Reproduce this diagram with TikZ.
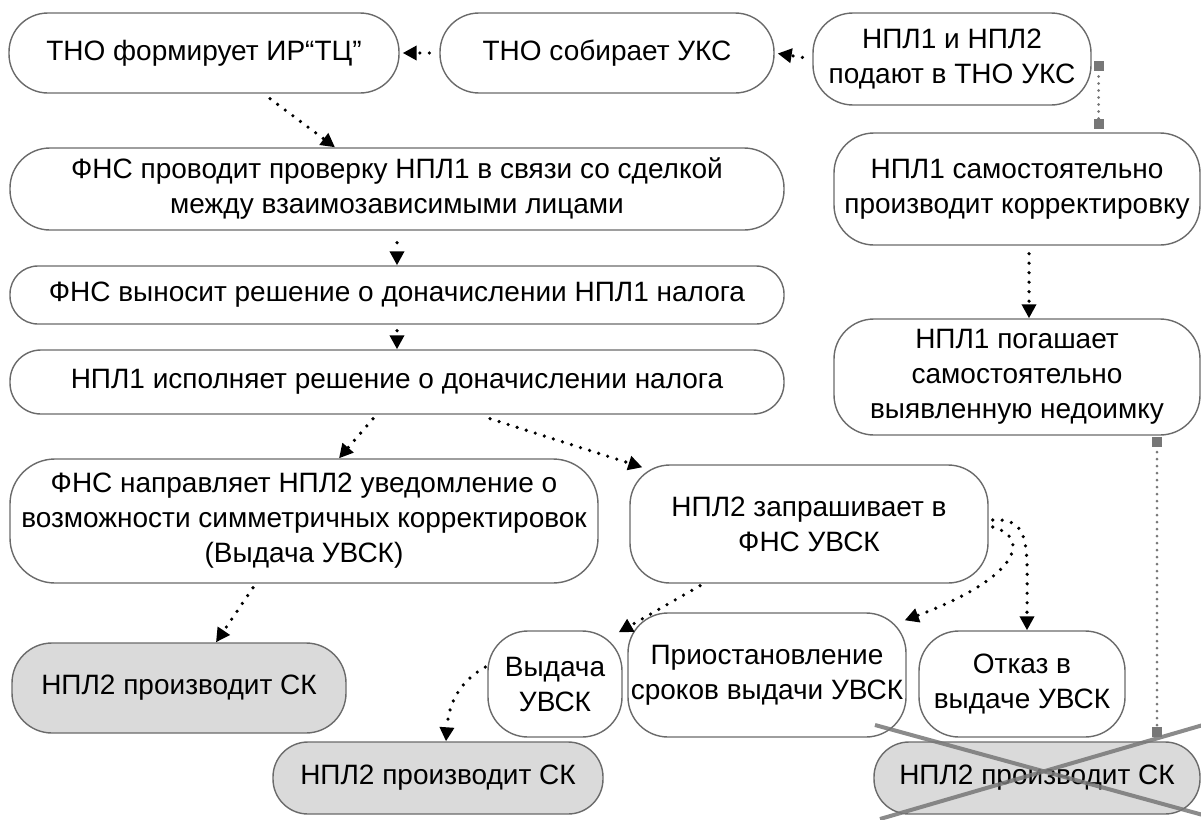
\documentclass[tikz,border=0pt]{standalone}
\usepackage{fontspec}
\setmainfont{Liberation Sans}
\usetikzlibrary{arrows.meta,calc}
\definecolor{edgec}{HTML}{6A6A6A}
\definecolor{ckfill}{HTML}{DADADA}
\definecolor{sqc}{HTML}{777777}
\begin{document}
\begin{tikzpicture}[x=1pt,y=-1pt,
  box/.style={draw=edgec, line width=1.4pt, rounded corners=40pt, fill=white,
    align=center, inner sep=0pt, font=\fontsize{28}{35}\selectfont},
  ckbox/.style={box, fill=ckfill},
  flow/.style={draw=black, line width=3.6pt, dash pattern=on 0pt off 9.5pt,
    line cap=round, -{Triangle[length=14pt,width=14pt]}},
  sqline/.style={draw=sqc, line width=3pt, dash pattern=on 0pt off 7pt,
    line cap=round, {Square[length=10pt,width=10pt]}-{Square[length=10pt,width=10pt]}},
  crossl/.style={draw=sqc, line width=4pt, opacity=0.85}]
\useasboundingbox (0,0) rectangle (1201,819);
\fill[white] (0,0) rectangle (1201,819);

% nodes
\node[box, rounded corners=39pt, minimum width=390pt, minimum height=80pt] (n1) at (204,53) {ТНО формирует ИР“ТЦ”};
\node[box, rounded corners=39pt, minimum width=334pt, minimum height=80pt] (n2) at (607,53) {ТНО собирает УКС};
\node[box, minimum width=278pt, minimum height=92pt] (n3) at (952,59) {НПЛ1 и НПЛ2\\подают в ТНО УКС};
\node[box, minimum width=774pt, minimum height=82pt] (n4) at (397,189) {ФНС проводит проверку НПЛ1 в связи со сделкой\\между взаимозависимыми лицами};
\node[box, minimum width=366pt, minimum height=112pt] (n5) at (1017,189) {НПЛ1 самостоятельно\\производит корректировку};
\node[box, rounded corners=28pt, minimum width=774pt, minimum height=58pt] (n6) at (397,295) {ФНС выносит решение о доначислении НПЛ1 налога};
\node[box, rounded corners=31pt, minimum width=774pt, minimum height=64pt] (n7) at (397,382) {НПЛ1 исполняет решение о доначислении налога};
\node[box, minimum width=366pt, minimum height=116pt] (n8) at (1017,377) {НПЛ1 погашает\\самостоятельно\\выявленную недоимку};
\node[box, rounded corners=45pt, minimum width=588pt, minimum height=124pt] (n9) at (304,521) {ФНС направляет НПЛ2 уведомление о\\возможности симметричных корректировок\\(Выдача УВСК)};
\node[box, minimum width=358pt, minimum height=118pt] (n10) at (809,524) {НПЛ2 запрашивает в\\ФНС УВСК};
\node[ckbox, minimum width=334pt, minimum height=90pt] (n11) at (179,688) {НПЛ2 производит СК};
\node[box, minimum width=134pt, minimum height=106pt] (n12) at (555,684) {Выдача\\УВСК};
\node[box, minimum width=278pt, minimum height=124pt] (n13) at (767,675) {Приостановление\\сроков выдачи УВСК};
\node[box, minimum width=206pt, minimum height=106pt] (n14) at (1022,684) {Отказ в\\выдаче УВСК};
\node[ckbox, rounded corners=35pt, minimum width=330pt, minimum height=72pt] (n15) at (438,778) {НПЛ2 производит СК};
\node[ckbox, rounded corners=35pt, minimum width=326pt, minimum height=72pt] (n16) at (1037,778) {НПЛ2 производит СК};

% arrows
\draw[flow, shorten <=10pt, shorten >=3pt] (n2.west) -- (n1.east);
\draw[flow, shorten <=10pt, shorten >=3pt] (n3.west) -- (n2.east);
\draw[flow] ([xshift=66pt,yshift=-5pt]n1.south) -- ([xshift=-62pt]n4.north);
\draw[flow, shorten <=12pt] (n4.south) -- (n6.north);
\draw[flow, shorten <=6pt] (n6.south) -- (n7.north);
\draw[flow] ([xshift=-24pt,yshift=-4pt]n7.south) -- ([xshift=35pt]n9.north);
\draw[flow] ([xshift=93pt,yshift=-4pt]n7.south) -- ([xshift=13pt,yshift=-3pt]n10.north west);
\draw[flow] ([xshift=-51pt,yshift=-4pt]n9.south) -- ([xshift=37pt]n11.north);
\draw[flow] ([xshift=-109pt,yshift=-2pt]n10.south) -- ([xshift=-4pt,yshift=-2pt]n12.north east);
\draw[flow] ([xshift=4pt,yshift=4pt]n10.east) .. controls (1032,518) and (1027,546) .. ([xshift=5pt]n14.north);
\draw[flow] ([xshift=4pt,yshift=-3pt]n10.east) .. controls (1032,538) and (1018,578) .. ([xshift=-2pt,yshift=-8pt]n13.north east);
\draw[flow] ([xshift=-2pt,yshift=17pt]n12.west) .. controls (466,678) and (449,696) .. ([xshift=8pt]n15.north);
\draw[flow, shorten <=8pt] ([xshift=12pt]n5.south) -- ([xshift=12pt]n8.north);

% grey square connectors
\coordinate (s1) at ([xshift=7pt,yshift=-2pt]n3.east);
\draw[sqline] (s1) -- ([yshift=3pt]s1 |- n5.north);
\coordinate (s2) at ([xshift=140pt,yshift=-1pt]n8.south);
\draw[sqline] (s2) -- ([yshift=4pt]s2 |- n16.north);

% cross over the last box
\draw[crossl] ([shift={(-162,-53)}]n16.center) -- ([shift={(166,37)}]n16.center);
\draw[crossl] ([shift={(-157,41)}]n16.center) -- ([shift={(166,-53)}]n16.center);
\end{tikzpicture}
\end{document}
